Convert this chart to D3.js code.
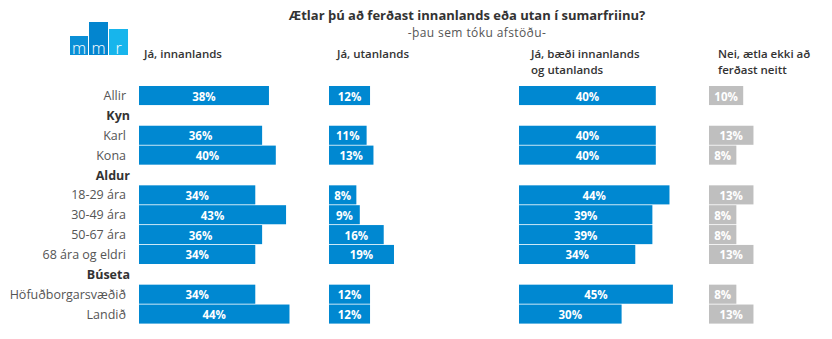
<!DOCTYPE html>
<html><head><meta charset="utf-8">
<script src="https://cdn.jsdelivr.net/npm/d3@7"></script>
<style>body{margin:0;background:#fff;}svg{display:block;font-family:"Open Sans",Lato,sans-serif;}</style>
</head><body><svg id="c" width="832" height="339"></svg>
<script>
const rows = ["Allir","Kyn","Karl","Kona","Aldur","18-29 ára","30-49 ára","50-67 ára","68 ára og eldri","Búseta","Höfuðborgarsvæðið","Landið"];
const headerRows = ["Kyn","Aldur","Búseta"];
const seriesNames = [["Já, innanlands"],["Já, utanlands"],["Já, bæði innanlands","og utanlands"],["Nei, ætla ekki að","ferðast neitt"]];
const innanlands = [38,null,36,40,null,34,43,36,34,null,34,44];
const utanlands  = [12,null,11,13,null,8,9,16,19,null,12,12];
const baedi      = [40,null,40,40,null,44,39,39,34,null,45,30];
const nei        = [10,null,13,8,null,13,8,8,13,null,8,13];
const seriesValues = [innanlands, utanlands, baedi, nei];
const seriesColors = ["#0088d1","#0088d1","#0088d1","#bfbfbf"];
const title = "Ætlar þú að ferðast innanlands eða utan í sumarfriinu?";
const subtitle = "-þau sem tóku afstöðu-";

const svg = d3.select("#c");
const y = d3.scaleBand().domain(rows).range([86, 323.6]).paddingInner(0.04).paddingOuter(0);
const colX = d3.scaleBand().domain(d3.range(4)).range([139, 899]);
const w = d3.scaleLinear().domain([0, 100]).range([0, 342]);

// title
svg.append("text").attr("x", 467).attr("y", 20).attr("text-anchor","middle")
  .attr("font-size", 13).attr("font-weight", "bold").attr("fill", "#333").text(title);
svg.append("text").attr("x", 477).attr("y", 37).attr("text-anchor","middle")
  .attr("font-size", 12).attr("fill", "#555").attr("letter-spacing", 0.4).text(subtitle);

// logo
const logo = svg.append("g");
const blocks = [{x:70,y:36,w:18,c:"#0a8fd6",t:"m"},{x:89,y:22,w:19,c:"#0385cf",t:"m"},{x:109,y:29,w:19,c:"#17b5ec",t:"r"}];
blocks.forEach(b => {
  logo.append("rect").attr("x",b.x).attr("y",b.y).attr("width",b.w).attr("height",55-b.y).attr("fill",b.c);
  logo.append("text").attr("x",b.x + b.w/2).attr("y",54).attr("text-anchor","middle").attr("font-size",16)
    .attr("font-weight",300).attr("fill","#fff").attr("font-family","'Open Sans',sans-serif").text(b.t);
});

// column headers
const hdrDx = [5, 8, 12, 9];
seriesNames.forEach((lines, i) => {
  lines.forEach((l, j) => svg.append("text")
    .attr("x", colX(i) + hdrDx[i]).attr("y", 58 + j * 15.8)
    .attr("font-size", 11.5).attr("font-weight", 600).attr("fill", "#333").text(l));
});

// row labels
svg.append("g").selectAll("text").data(rows).join("text")
  .attr("x", d => headerRows.includes(d) ? 130 : 126)
  .attr("y", d => y(d) + y.bandwidth()/2 + 4.5)
  .attr("text-anchor", "end")
  .attr("font-size", 12.5)
  .attr("font-weight", d => headerRows.includes(d) ? "bold" : "normal")
  .attr("fill", d => headerRows.includes(d) ? "#333" : "#555")
  .text(d => d);

// bars
seriesValues.forEach((vals, i) => {
  const data = rows.map((r, k) => ({r, v: vals[k]})).filter(d => d.v != null);
  const g = svg.append("g");
  g.selectAll("rect").data(data).join("rect")
    .attr("x", colX(i)).attr("y", d => y(d.r))
    .attr("width", d => w(d.v)).attr("height", y.bandwidth())
    .attr("fill", seriesColors[i]);
  g.selectAll("text").data(data).join("text")
    .attr("x", d => colX(i) + w(d.v)/2)
    .attr("y", d => y(d.r) + y.bandwidth()/2 + 5)
    .attr("text-anchor", "middle").attr("font-size", 11.5).attr("font-weight", "bold")
    .attr("fill", "#fff").text(d => d.v + "%");
});
</script></body></html>
